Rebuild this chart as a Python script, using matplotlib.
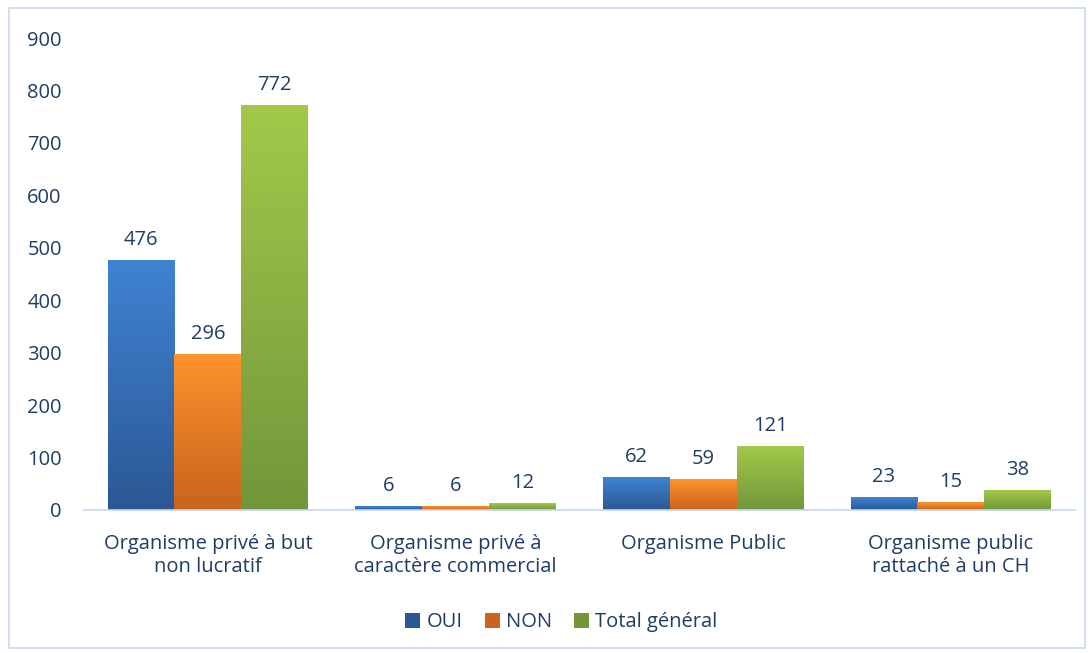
import matplotlib
matplotlib.use('Agg')
import matplotlib.pyplot as plt
import numpy as np
from matplotlib.patches import Patch, Rectangle
from matplotlib.colors import LinearSegmentedColormap

plt.rcParams['font.family'] = ['Open Sans', 'DejaVu Sans']

categories = ['Organisme privé à but\nnon lucratif',
              'Organisme privé à\ncaractère commercial',
              'Organisme Public',
              'Organisme public\nrattaché à un CH']
series = ['OUI', 'NON', 'Total général']
oui = [476, 6, 62, 23]
non = [296, 6, 59, 15]
total = [772, 12, 121, 38]

# (top colour, bottom colour) for the gradient fill
grads = [('#4083d4', '#2b5893'), ('#ff932e', '#c8641c'), ('#a3c94a', '#73963a')]
txt = '#1f3d66'
fs = 14.5

fig = plt.figure(figsize=(10.9, 6.53), dpi=100)
fig.patches.append(Rectangle((0.008, 0.008), 0.987, 0.98, transform=fig.transFigure,
                             fill=False, edgecolor='#c9d9ee', linewidth=1.2))
ax = fig.add_axes([0.0771, 0.219, 0.9089, 0.7228])

x = np.arange(len(categories))
w = 0.27
grad = np.linspace(1, 0, 256).reshape(-1, 1)
for i, vals in enumerate([oui, non, total]):
    cmap = LinearSegmentedColormap.from_list('g', [grads[i][1], grads[i][0]])
    for xi, v in zip(x, vals):
        x0 = xi + (i - 1) * w - w / 2
        ax.imshow(grad, cmap=cmap, extent=[x0, x0 + w, 0, v], aspect='auto',
                  vmin=0, vmax=1, zorder=2)
        ax.text(x0 + w / 2, v + 20, str(v), ha='center', va='bottom',
                fontsize=fs, color=txt)

ax.set_xlim(-0.5, 3.5)
ax.set_ylim(0, 900)
ax.set_yticks(range(0, 901, 100))
ax.set_xticks(x)
ax.set_xticklabels(categories, fontsize=fs, color=txt, linespacing=1.25)
ax.tick_params(axis='y', length=0, pad=16, labelsize=fs, labelcolor=txt)
ax.tick_params(axis='x', length=0, pad=17)
for s in ['top', 'right', 'left']:
    ax.spines[s].set_visible(False)
ax.spines['bottom'].set_color('#c6d7ef')
ax.spines['bottom'].set_linewidth(1.2)

handles = [Patch(facecolor=grads[i][1], edgecolor='none') for i in range(3)]
fig.legend(handles, series, loc='center', bbox_to_anchor=(0.515, 0.047), ncol=3,
           frameon=False, fontsize=fs, labelcolor=txt, handlelength=0.75,
           handleheight=0.75, handletextpad=0.3, columnspacing=1.1)

fig.savefig('out.png', dpi=100)
